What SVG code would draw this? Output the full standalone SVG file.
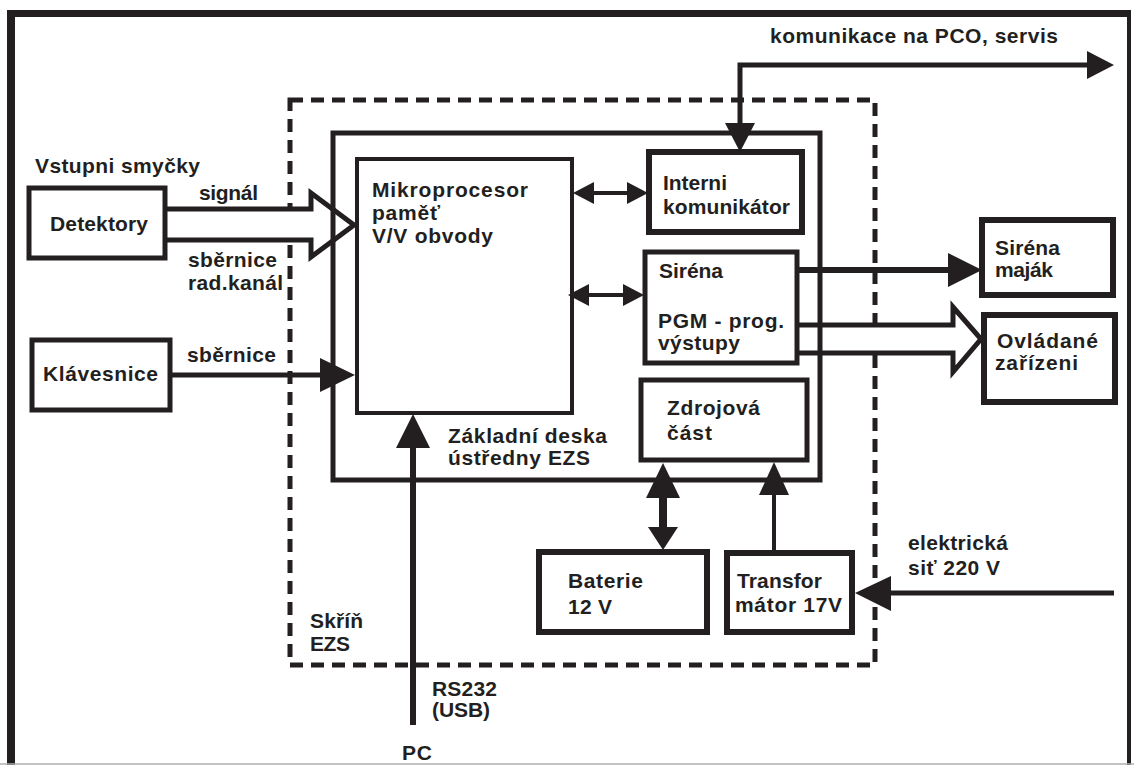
<svg xmlns="http://www.w3.org/2000/svg" width="1134" height="765" viewBox="0 0 1134 765">
<style>
text{font-family:"Liberation Sans",Arial,sans-serif;font-weight:bold;font-size:21px;fill:#231f20}
.box{fill:#fff;stroke:#231f20}
.ln{fill:none;stroke:#231f20}
.hd{fill:#231f20;stroke:none}
.hollow{fill:#fff;stroke:#231f20;stroke-width:5;stroke-linejoin:miter}
</style>
<rect width="1134" height="765" fill="#fff"/>
<g id="frame">
<line x1="11" y1="13" x2="11" y2="765" stroke="#231f20" stroke-width="8"/>
<line x1="7" y1="13.5" x2="1131" y2="13.5" stroke="#231f20" stroke-width="7"/>
<line x1="1129" y1="12" x2="1129" y2="765" stroke="#231f20" stroke-width="4"/>
<line x1="0" y1="764" x2="1134" y2="764" stroke="#b0b0b0" stroke-width="1.5"/>
</g>
<g id="skrin">
<rect x="290" y="100" width="585" height="565" fill="none" stroke="#231f20" stroke-width="5" stroke-dasharray="13 8"/>
<text x="310" y="628" textLength="53">Skříň</text>
<text x="310" y="651" textLength="40">EZS</text>
</g>
<g id="connectors">
<path class="hollow" d="M165,209 L311,209 L311,193 L354,225 L311,257 L311,240 L165,240"/>
<path class="hollow" d="M797,325 L953,325 L953,307 L981,339 L953,372 L953,353 L797,353"/>
</g>
<g id="deska">
<rect x="333" y="133" width="487" height="347" fill="none" stroke="#231f20" stroke-width="5"/>
<text x="448" y="443" textLength="159">Základní deska</text>
<text x="448" y="465" textLength="142">ústředny EZS</text>
</g>
<g id="mikroprocesor">
<rect class="box" x="357" y="159" width="215" height="254" stroke-width="4"/>
<text x="372" y="197" textLength="156">Mikroprocesor</text>
<text x="372" y="220" textLength="68">paměť</text>
<text x="372" y="243" textLength="121">V/V obvody</text>
</g>
<g id="interni">
<rect class="box" x="649" y="152" width="153" height="80" stroke-width="6"/>
<text x="663" y="190" textLength="64">Interni</text>
<text x="663" y="214" textLength="127">komunikátor</text>
</g>
<g id="sirena-pgm">
<rect class="box" x="645" y="252" width="152" height="111" stroke-width="5"/>
<text x="659" y="278" textLength="64">Siréna</text>
<text x="658" y="328" textLength="126">PGM - prog.</text>
<text x="658" y="350" textLength="82">výstupy</text>
</g>
<g id="zdrojova">
<rect class="box" x="641" y="380" width="166" height="80" stroke-width="5"/>
<text x="667" y="415" textLength="93">Zdrojová</text>
<text x="667" y="440" textLength="45">část</text>
</g>
<g id="baterie">
<rect class="box" x="539" y="552" width="168" height="80" stroke-width="6"/>
<text x="568" y="588" textLength="75">Baterie</text>
<text x="568" y="614" textLength="44">12 V</text>
</g>
<g id="transformator">
<rect class="box" x="727" y="553" width="125" height="79" stroke-width="6"/>
<text x="737" y="588" textLength="85">Transfor</text>
<text x="735" y="612" textLength="107">mátor 17V</text>
</g>
<g id="detektory">
<rect class="box" x="29" y="188" width="136" height="70" stroke-width="5"/>
<text x="50" y="231" textLength="98">Detektory</text>
</g>
<g id="klavesnice">
<rect class="box" x="32" y="340" width="138" height="70" stroke-width="5"/>
<text x="43" y="381" textLength="115">Klávesnice</text>
</g>
<g id="sirena-majak">
<rect class="box" x="982" y="220" width="131" height="75" stroke-width="6"/>
<text x="995" y="255" textLength="65">Siréna</text>
<text x="995" y="277" textLength="58">maják</text>
</g>
<g id="ovladane">
<rect class="box" x="984" y="315" width="131" height="87" stroke-width="6"/>
<text x="997" y="348" textLength="101">Ovládané</text>
<text x="995" y="370" textLength="83">zařízeni</text>
</g>
<g id="connectors-lines">
<polyline class="ln" points="740,125 740,65 1088,65" stroke-width="5"/>
<polygon class="hd" points="725,123 755,123 740,152"/>
<polygon class="hd" points="1087,51 1114,65 1087,79"/>
<line class="ln" x1="590" y1="193" x2="632" y2="193" stroke-width="4"/>
<polygon class="hd" points="573,193 594,182 594,204"/>
<polygon class="hd" points="648,193 627,182 627,204"/>
<line class="ln" x1="585" y1="295" x2="627" y2="295" stroke-width="4"/>
<polygon class="hd" points="568,295 589,284 589,306"/>
<polygon class="hd" points="644,295 623,284 623,306"/>
<line class="ln" x1="797" y1="270" x2="950" y2="270" stroke-width="6"/>
<polygon class="hd" points="948,253 982,270 948,287"/>
<line class="ln" x1="170" y1="375" x2="322" y2="375" stroke-width="5"/>
<polygon class="hd" points="320,358 355,375 320,392"/>
<line class="ln" x1="413" y1="725" x2="413" y2="446" stroke-width="6"/>
<polygon class="hd" points="396,448 413,414 430,448"/>
<line class="ln" x1="663" y1="495" x2="663" y2="530" stroke-width="8"/>
<polygon class="hd" points="646,498 663,463 680,498"/>
<polygon class="hd" points="648,527 678,527 663,550"/>
<line class="ln" x1="774" y1="553" x2="774" y2="493" stroke-width="4"/>
<polygon class="hd" points="759,495 774,462 789,495"/>
<line class="ln" x1="1114" y1="593" x2="888" y2="593" stroke-width="5"/>
<polygon class="hd" points="891,576 855,593 891,611"/>
</g>
<g id="labels">
<text x="770" y="43" textLength="288">komunikace na PCO, servis</text>
<text x="35" y="173" textLength="165">Vstupni smyčky</text>
<text x="199" y="200" textLength="59">signál</text>
<text x="188" y="267" textLength="89">sběrnice</text>
<text x="188" y="290" textLength="95">rad.kanál</text>
<text x="187" y="362" textLength="89">sběrnice</text>
<text x="908" y="550" textLength="100">elektrická</text>
<text x="908" y="575" textLength="92">siť 220 V</text>
<text x="432" y="696" textLength="65">RS232</text>
<text x="432" y="717" textLength="58">(USB)</text>
<text x="402" y="760" textLength="30">PC</text>
</g>
</svg>
